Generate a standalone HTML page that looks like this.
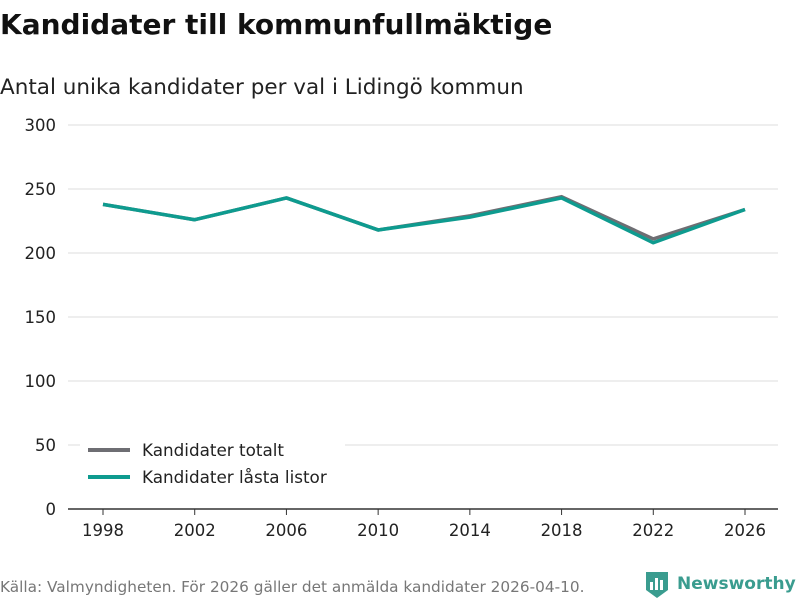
<!DOCTYPE html>
<html><head><meta charset="utf-8"><style>
body{margin:0;background:#fff;font-family:"DejaVu Sans","Liberation Sans",sans-serif}
svg text{font-family:"DejaVu Sans","Liberation Sans",sans-serif}
</style></head><body>
<svg id="c" width="800" height="600">
<text x="0" y="34" font-size="28" font-weight="bold" fill="#111">Kandidater till kommunfullmäktige</text>
<text x="0" y="94" font-size="21.5" fill="#222">Antal unika kandidater per val i Lidingö kommun</text>
<g id="grid"></g><g id="xaxis"></g><g id="lines"></g>
<g>
<rect x="80" y="438" width="265" height="58" fill="#fff"/>
<line x1="88" y1="450" x2="130" y2="450" stroke="#6e6e73" stroke-width="4"/>
<text x="142" y="456" font-size="16.8" fill="#222">Kandidater totalt</text>
<line x1="88" y1="477" x2="130" y2="477" stroke="#0e9b8f" stroke-width="4"/>
<text x="142" y="483" font-size="16.8" fill="#222">Kandidater låsta listor</text>
</g>
<text x="0" y="592" font-size="15.3" fill="#777">Källa: Valmyndigheten. För 2026 gäller det anmälda kandidater 2026-04-10.</text>
<g>
<path d="M646 572 h22 v18 l-11 8 l-11 -8z" fill="#3a9c8f"/>
<rect x="650" y="582" width="3" height="8" fill="#fff"/><rect x="655" y="578" width="3" height="12" fill="#fff"/><rect x="660" y="580" width="3" height="10" fill="#fff"/>
<text x="677" y="589" font-size="17" font-weight="bold" fill="#3a9c8f">Newsworthy</text>
</g>
</svg>
<script>
const years=["1998","2002","2006","2010","2014","2018","2022","2026"];
const totalt=[238,226,243,218,229,244,211,234];
const lasta=[238,226,243,218,228,243,208,234];
const yTicks=[0,50,100,150,200,250,300];
const ns="http://www.w3.org/2000/svg";
const x0=103,x1=745,yb=509,yt=125;
const xs=i=>x0+i*(x1-x0)/(years.length-1);
const ys=v=>yb-(v/300)*(yb-yt);
function mk(t,a,p){const e=document.createElementNS(ns,t);for(const k in a)e.setAttribute(k,a[k]);p.appendChild(e);return e;}
const g=document.getElementById('grid');
yTicks.forEach(v=>{
 const l=mk('line',{x1:68,x2:778,y1:ys(v),y2:ys(v),stroke:v===0?'#333':'#ddd','stroke-width':v===0?1.5:1},g);
 
 
 const t=mk('text',{x:56,y:ys(v)+6,'text-anchor':'end','font-size':16.5,fill:'#222'},g);t.textContent=v;
 
 
});
const xa=document.getElementById('xaxis');
years.forEach((y,i)=>{
 const l=mk('line',{x1:xs(i),x2:xs(i),y1:yb,y2:yb+6,stroke:'#333'},xa);
 
 
 const t=mk('text',{x:xs(i),y:536,'text-anchor':'middle','font-size':16.5,fill:'#222'},xa);t.textContent=y;
 
 
});
const lg=document.getElementById('lines');
[[totalt,'#6e6e73','line-totalt'],[lasta,'#0e9b8f','line-lasta']].forEach(([d,c,n])=>{
 const p=mk('polyline',{points:d.map((v,i)=>xs(i)+','+ys(v)).join(' '),fill:'none',stroke:c,'stroke-width':3.5,'stroke-linejoin':'round'},lg);
 
 
});
</script>
</body></html>
